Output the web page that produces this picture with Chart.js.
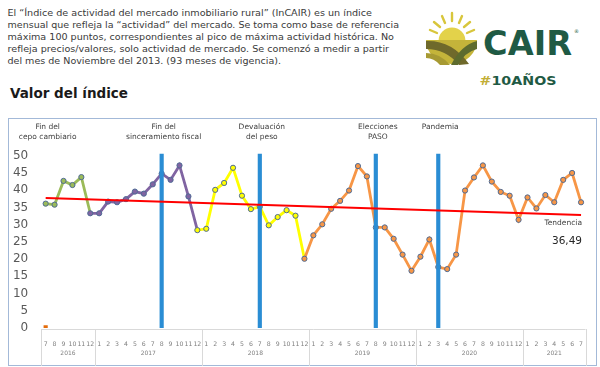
<!DOCTYPE html>
<html lang="es">
<head>
<meta charset="utf-8">
<title>Valor del índice</title>
<script src="https://cdn.jsdelivr.net/npm/chart.js@4.4.1/dist/chart.umd.min.js"></script>
<style>
  html, body { margin: 0; padding: 0; background: #fff; }
  body { width: 600px; height: 367px; position: relative; overflow: hidden; font-family: 'DejaVu Sans', Verdana, sans-serif; }
  #head { position: absolute; left: 0; top: 0; }
  #frame { position: absolute; left: 8px; top: 118px; width: 589px; height: 248px; box-sizing: border-box; border: 1px solid #a3b9d8; }
  #chart { position: absolute; left: 8px; top: 118px; }
</style>
</head>
<body>
<svg id="head" width="600" height="118" xmlns="http://www.w3.org/2000/svg">
  <g font-family="DejaVu Sans, Verdana, sans-serif" font-size="9.2" fill="#3a3a3a">
    <text x="7.5" y="16" textLength="364.5" lengthAdjust="spacingAndGlyphs">El “Índice de actividad del mercado inmobiliario rural” (InCAIR) es un índice</text>
    <text x="7.5" y="28.3" textLength="391.5" lengthAdjust="spacingAndGlyphs">mensual que refleja la “actividad” del mercado. Se toma como base de referencia</text>
    <text x="7.5" y="40.3" textLength="386.5" lengthAdjust="spacingAndGlyphs">máxima 100 puntos, correspondientes al pico de máxima actividad histórica. No</text>
    <text x="7.5" y="52.3" textLength="381.5" lengthAdjust="spacingAndGlyphs">refleja precios/valores, solo actividad de mercado. Se comenzó a medir a partir</text>
    <text x="7.5" y="64.3" textLength="273.5" lengthAdjust="spacingAndGlyphs">del mes de Noviembre del 2013. (93 meses de vigencia).</text>
  </g>
  <text x="10" y="98" font-family="DejaVu Sans, Verdana, sans-serif" font-weight="bold" font-size="13.5" fill="#1a1a1a" textLength="118" lengthAdjust="spacingAndGlyphs">Valor del índice</text>

  <!-- logo -->
  <g stroke="#d8c63c" stroke-width="2.4" stroke-linecap="round">
    <line x1="437" y1="33" x2="430" y2="30"/>
    <line x1="440" y1="27" x2="434" y2="22"/>
    <line x1="445" y1="23" x2="442" y2="16"/>
    <line x1="452" y1="21" x2="452" y2="13"/>
    <line x1="459" y1="23" x2="462" y2="16"/>
    <line x1="464" y1="27" x2="470" y2="22"/>
    <line x1="467" y1="33" x2="474" y2="30"/>
  </g>
  <clipPath id="lower"><rect x="420" y="40" width="64" height="30"/></clipPath>
  <circle cx="452" cy="41" r="13.5" fill="#e3d24a"/>
  <g clip-path="url(#lower)">
    <ellipse cx="451.5" cy="40" rx="25.5" ry="24" fill="#c4b43a"/>
    <path d="M426,41 Q452,40 469,64 L459,65 Q446,49 426,49 Z" fill="#6f692b"/>
    <path d="M477,41 Q461,45 451,65 L458,65 Q465,52 477,49 Z" fill="#5d6b2e"/>
    <path d="M426,53 Q440,53 450,65 L440,65 Q434,58 426,58 Z" fill="#a79a33"/>
  </g>
  <text x="483" y="55" font-family="DejaVu Sans, Verdana, sans-serif" font-weight="bold" font-size="33" fill="#1f5a44" textLength="89" lengthAdjust="spacingAndGlyphs">CAIR</text>
  <text x="574" y="33" font-family="DejaVu Sans, sans-serif" font-size="5" fill="#1f5a44">®</text>
  <text x="479.5" y="85" font-family="DejaVu Sans, Verdana, sans-serif" font-weight="bold" font-size="12" fill="#1f5a44" textLength="77" lengthAdjust="spacingAndGlyphs"><tspan fill="#c2ae36">#</tspan>10AÑOS</text>
</svg>
<div id="frame"></div>
<canvas id="chart" width="589" height="248"></canvas>
<script>
// categories: month number of each point, grouped by year
const monthLabels = [
  '7', '8', '9', '10', '11', '12',
  '1', '2', '3', '4', '5', '6', '7', '8', '9', '10', '11', '12',
  '1', '2', '3', '4', '5', '6', '7', '8', '9', '10', '11', '12',
  '1', '2', '3', '4', '5', '6', '7', '8', '9', '10', '11', '12',
  '1', '2', '3', '4', '5', '6', '7', '8', '9', '10', '11', '12',
  '1', '2', '3', '4', '5', '6', '7'
];
const yearLabels = ['2016', '2017', '2018', '2019', '2020', '2021'];
const yearSpans = [6, 12, 12, 12, 12, 7];

// InCAIR index values
const indexValues = [
  36.1, 35.8, 42.7, 41.5, 43.8, 33.3,
  33.3, 36.7, 36.5, 37.4, 39.6, 39.0, 41.7, 44.8, 43.0, 47.2, 38.2, 28.4,
  28.8, 40.1, 42.1, 46.5, 38.4, 34.5, 35.2, 29.8, 32.2, 34.2, 32.6, 20.1,
  26.9, 30.1, 34.6, 36.9, 39.9, 47.0, 44.0, 29.2, 29.2, 25.9, 21.3, 16.6,
  20.7, 25.7, 17.7, 17.1, 21.3, 39.9, 43.7, 47.2, 42.5, 39.5, 38.4, 31.4,
  37.9, 34.7, 38.6, 36.5, 43.0, 45.0, 36.49
];
const seriesColors = ['#9bbb59', '#8064a2', '#ffff00', '#f79646', '#f79646', '#f79646'];

// events marked as thin bars
const eventNames = [['Fin del', 'cepo cambiario'], ['Fin del', 'sinceramiento fiscal'], ['Devaluación', 'del peso'], ['Elecciones', 'PASO'], ['Pandemia']];
const eventIndex = [0, 13, 24, 37, 44];
const eventValues = [0.7, 50.5, 50.5, 50.5, 50.5];
const eventColors = ['#e46c0a', '#2a8dd4', '#2a8dd4', '#2a8dd4', '#2a8dd4'];

// trend line ends (first and last month)
const trendEnds = [37.7, 32.8];
const yTicks = [0, 5, 10, 15, 20, 25, 30, 35, 40, 45, 50];

// each December already carries the colour of the following year
const pointGroup = [];
yearSpans.forEach((n, y) => { for (let k = 0; k < n; k++) pointGroup.push(y); });
monthLabels.forEach((m, i) => {
  if (m === '12' && pointGroup[i] < yearLabels.length - 1) pointGroup[i]++;
});
const pointColors = pointGroup.map(g => seriesColors[g]);

const eventBars = monthLabels.map(() => null);
const eventBarColors = monthLabels.map(() => 'transparent');
eventIndex.forEach((idx, k) => { eventBars[idx] = eventValues[k]; eventBarColors[idx] = eventColors[k]; });

const trendData = monthLabels.map(() => null);
trendData[0] = trendEnds[0];
trendData[trendData.length - 1] = trendEnds[1];

const decorations = {
  id: 'decorations',
  afterDraw(chart) {
    const { ctx, chartArea, scales: { x, y } } = chart;
    const px = i => x.getPixelForValue(i);
    const last = monthLabels.length - 1;
    ctx.save();

    // axis line + year separators
    const edges = [chartArea.left];
    let count = 0;
    yearSpans.forEach(n => {
      count += n;
      edges.push(count <= last ? (px(count - 1) + px(count)) / 2 : chartArea.right);
    });
    ctx.strokeStyle = '#d9d9d9';
    ctx.lineWidth = 1;
    ctx.beginPath();
    ctx.moveTo(chartArea.left, chartArea.bottom + 1.5);
    ctx.lineTo(chartArea.right, chartArea.bottom + 1.5);
    edges.forEach(e => {
      const ex = Math.round(e) + 0.5;
      ctx.moveTo(ex, chartArea.bottom + 1);
      ctx.lineTo(ex, chart.height);
    });
    ctx.stroke();

    ctx.textAlign = 'center';
    ctx.textBaseline = 'middle';
    ctx.fillStyle = '#7f7f7f';
    ctx.font = '6px "DejaVu Sans", Verdana, sans-serif';
    yearLabels.forEach((yl, k) => ctx.fillText(yl, (edges[k] + edges[k + 1]) / 2, chartArea.bottom + 25.5));

    // event captions
    ctx.fillStyle = '#404040';
    ctx.font = '7.5px "DejaVu Sans", Verdana, sans-serif';
    eventNames.forEach((lines, k) => {
      lines.forEach((t, j) => ctx.fillText(t, px(eventIndex[k]) + 2, 9.5 + j * 10));
    });

    // trend caption and last value
    const tx = px(last) + 1;
    const ty = y.getPixelForValue(trendEnds[1]);
    ctx.textAlign = 'right';
    ctx.fillText('Tendencia', tx, ty + 8);
    ctx.fillStyle = '#262626';
    ctx.font = '10.5px "DejaVu Sans", Verdana, sans-serif';
    ctx.fillText(indexValues[last].toFixed(2).replace('.', ','), tx, ty + 26);
    ctx.restore();
  }
};

new Chart(document.getElementById('chart'), {
  type: 'bar',
  data: {
    labels: monthLabels,
    datasets: [
      {
        type: 'line',
        label: 'Tendencia',
        data: trendData,
        spanGaps: true,
        borderColor: '#ff0000',
        borderWidth: 2,
        pointRadius: 0,
        order: 0
      },
      {
        type: 'bar',
        label: 'Eventos',
        data: eventBars,
        backgroundColor: eventBarColors,
        barThickness: 3.5,
        order: 1
      },
      {
        type: 'line',
        label: 'InCAIR',
        data: indexValues,
        borderWidth: 2.8,
        borderColor: seriesColors[0],
        segment: { borderColor: c => pointColors[c.p0DataIndex] },
        pointRadius: 2.6,
        pointBackgroundColor: pointColors,
        pointBorderColor: '#4f6b95',
        pointBorderWidth: 1,
        tension: 0,
        order: 2
      }
    ]
  },
  options: {
    responsive: false,
    devicePixelRatio: 1,
    animation: false,
    layout: { padding: { top: 34.3, right: 11.5, left: 0, bottom: 0 } },
    plugins: { legend: { display: false }, tooltip: { enabled: false } },
    scales: {
      x: {
        grid: { display: false },
        border: { display: false },
        ticks: {
          autoSkip: false, maxRotation: 0, minRotation: 0, padding: 5,
          color: '#7f7f7f',
          font: { family: '"DejaVu Sans", Verdana, sans-serif', size: 6.2 }
        },
        afterFit: s => { s.height = 38; }
      },
      y: {
        min: 0,
        max: 51,
        grid: { display: false, drawTicks: false },
        border: { display: false },
        afterBuildTicks: s => { s.ticks = yTicks.map(v => ({ value: v })); },
        ticks: {
          padding: 13,
          color: '#595959',
          font: { family: '"DejaVu Sans", Verdana, sans-serif', size: 12 }
        },
        afterFit: s => { s.width = 33.2; }
      }
    }
  },
  plugins: [decorations]
});
</script>
</body>
</html>
